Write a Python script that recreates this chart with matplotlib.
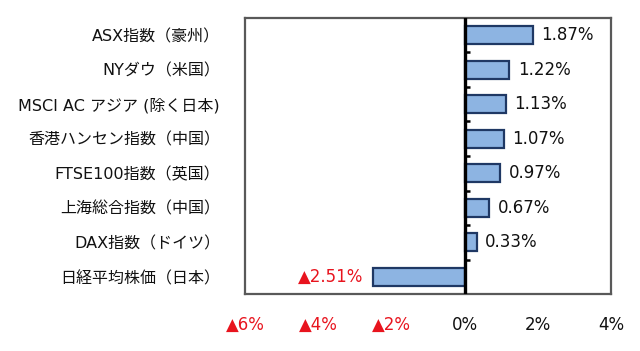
import matplotlib
matplotlib.use("Agg")
import matplotlib.pyplot as plt

categories = ["ASX指数（豪州）", "NYダウ（米国）", "MSCI AC アジア (除く日本)",
              "香港ハンセン指数（中国）", "FTSE100指数（英国）", "上海総合指数（中国）",
              "DAX指数（ドイツ）", "日経平均株価（日本）"]
values = [1.87, 1.22, 1.13, 1.07, 0.97, 0.67, 0.33, -2.51]
xticks = [-6, -4, -2, 0, 2, 4]
xtick_labels = ["▲6%", "▲4%", "▲2%", "0%", "2%", "4%"]

RED = "#E8141E"
plt.rcParams['font.family'] = ['DejaVu Sans', 'Noto Sans CJK JP']

fig = plt.figure(figsize=(6.4, 3.51), dpi=100)
ax = fig.add_axes([0.383, 0.162, 0.572, 0.787])

y = list(range(len(categories)))
ax.barh(y, values, height=0.52, color="#8DB4E2", edgecolor="#1F3864", linewidth=1.6, zorder=2)

ax.set_xlim(-6, 4)
ax.set_ylim(len(categories) - 0.5, -0.5)

# zero line with boundary ticks
ax.axvline(0, color="black", linewidth=2.4, zorder=3)
for i in range(len(categories) - 1):
    ax.plot([0, 0.15], [i + 0.5, i + 0.5], color="black", linewidth=1.8, zorder=3,
            solid_capstyle="butt")

for yi, v in zip(y, values):
    if v >= 0:
        ax.annotate(f"{v:.2f}%", (v, yi), xytext=(6, 0), textcoords="offset points",
                    ha="left", va="center", fontsize=12, color="#111111")
    else:
        ax.annotate(f"▲{abs(v):.2f}%", (v, yi), xytext=(-7, 0), textcoords="offset points",
                    ha="right", va="center", fontsize=12, color=RED)

ax.set_yticks(y)
ax.set_yticklabels(categories, fontsize=11.5, color="#111111")
ax.tick_params(axis="y", length=0, pad=18)
ax.set_xticks(xticks)
ax.set_xticklabels(xtick_labels, fontsize=12)
ax.tick_params(axis="x", length=0, pad=16)
for lbl, t in zip(ax.get_xticklabels(), xticks):
    lbl.set_color(RED if t < 0 else "#111111")

for s in ax.spines.values():
    s.set_color("#595959")
    s.set_linewidth(1.6)

fig.savefig("out.png", dpi=100)
